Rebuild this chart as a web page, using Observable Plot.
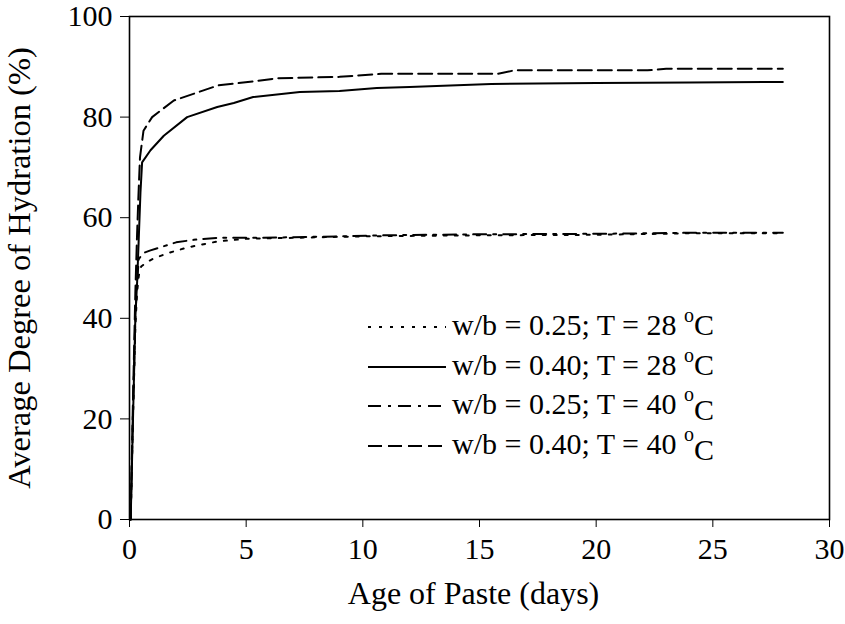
<!DOCTYPE html>
<html>
<head>
<meta charset="utf-8">
<script src="https://cdn.jsdelivr.net/npm/d3@7"></script>
<script src="https://cdn.jsdelivr.net/npm/@observablehq/plot@0.6"></script>
<style>
  html, body { margin: 0; padding: 0; background: #fff; }
  #wrap { position: relative; width: 845px; height: 624px; }
  #wrap svg { position: absolute; left: 0; top: 0; }
</style>
</head>
<body>
<div id="wrap"></div>
<script>
// ---- data ----
const seriesNames = [
  "w/b = 0.25; T = 28 °C",
  "w/b = 0.40; T = 28 °C",
  "w/b = 0.25; T = 40 °C",
  "w/b = 0.40; T = 40 °C"
];
// w/b = 0.25, T = 28 °C (dotted)
const daysA = [0.05, 0.15, 0.25, 0.32, 0.4, 0.5, 0.75, 1, 1.6, 2.5, 3.8, 5, 7, 10, 15, 20, 24, 28];
const hydA  = [0, 20, 38, 45, 48.5, 50.3, 51.2, 51.8, 52.9, 54.1, 55.3, 55.8, 56, 56.3, 56.5, 56.6, 56.9, 56.9];
// w/b = 0.40, T = 28 °C (solid)
const daysB = [0.05, 0.15, 0.25, 0.33, 0.39, 0.47, 0.54, 0.9, 1.47, 2.47, 3.76, 4.47, 5.3, 7.3, 9, 10.6, 12, 15.5, 20, 24, 28];
const hydB  = [0, 20, 40, 47.5, 55, 65, 71, 73.4, 76.3, 80, 82, 82.8, 84, 85, 85.2, 85.8, 86, 86.6, 86.8, 86.9, 87];
// w/b = 0.25, T = 40 °C (dash-dot)
const daysC = [0.05, 0.15, 0.25, 0.32, 0.4, 0.6, 0.9, 2, 2.75, 3.76, 5.6, 8, 11, 15, 20, 22.3, 24, 28];
const hydC  = [0, 22, 40, 47, 51.8, 53, 53.5, 55.1, 55.6, 56, 56, 56.2, 56.5, 56.7, 56.8, 56.9, 57, 57];
// w/b = 0.40, T = 40 °C (dashed)
const daysD = [0.05, 0.15, 0.25, 0.32, 0.38, 0.45, 0.6, 0.97, 1.9, 3.8, 5.3, 6.3, 9, 10.8, 15.8, 16.5, 22.2, 23, 28];
const hydD  = [0, 24, 45, 56, 64, 72, 77.3, 80, 83.3, 86.3, 87.1, 87.7, 88, 88.6, 88.6, 89.3, 89.3, 89.6, 89.6];

const xTicks = [0, 5, 10, 15, 20, 25, 30];
const yTicks = [0, 20, 40, 60, 80, 100];
const xTitle = "Age of Paste (days)";
const yTitle = "Average Degree of Hydration (%)";

// ---- styles ----
const dashes = ["3,8", null, "13,7,3,7", "14,6"];
const font = "'Liberation Serif', 'Times New Roman', serif";

const toRows = (days, vals) => days.map((d, i) => ({day: d, hyd: vals[i]}));
const series = [toRows(daysA, hydA), toRows(daysB, hydB), toRows(daysC, hydC), toRows(daysD, hydD)];

const lineMarks = series.map((rows, i) =>
  Plot.line(rows, {
    x: "day", y: "hyd",
    stroke: "#000", strokeWidth: 2,
    strokeDasharray: dashes[i] || undefined,
    curve: "linear"
  })
);

const chart = Plot.plot({
  width: 845,
  height: 624,
  marginLeft: 129,
  marginRight: 16,
  marginTop: 16,
  marginBottom: 105,
  style: {fontFamily: font, fontSize: "30px", color: "#000", background: "transparent", overflow: "visible"},
  x: {domain: [0, 30]},
  y: {domain: [0, 100]},
  marks: [
    Plot.axisX({ticks: xTicks, tickSize: 8, tickPadding: 10, label: null, fontSize: 30}),
    Plot.axisY({ticks: yTicks, tickSize: 9, tickPadding: 8, label: null, fontSize: 30}),
    ...lineMarks,
    Plot.frame({stroke: "#000", strokeWidth: 1.6}),
    Plot.text([xTitle], {text: d => d, frameAnchor: "bottom", dy: 84, dx: -6, fontSize: 32, fontFamily: font, fill: "#000"}),
    Plot.text([yTitle], {text: d => d, frameAnchor: "left", textAnchor: "middle", dx: -110, rotate: -90, fontSize: 32.5, fontFamily: font, fill: "#000"})
  ]
});
document.getElementById("wrap").appendChild(chart);

// ---- legend overlay (inside the plot frame) ----
const leg = d3.select("#wrap").append("svg")
  .attr("width", 845).attr("height", 624)
  .style("pointer-events", "none");
const legY = [327, 367, 406, 446];
seriesNames.forEach((name, i) => {
  const g = leg.append("g").attr("transform", `translate(0,${legY[i]})`);
  const ln = g.append("line").attr("x1", 368).attr("x2", 446).attr("y1", 0).attr("y2", 0)
    .attr("stroke", "#000").attr("stroke-width", 2);
  if (dashes[i]) ln.attr("stroke-dasharray", dashes[i]);
  const base = name.replace(" °C", " ");
  const t = g.append("text").attr("x", 452).attr("y", 8)
    .attr("font-family", font).attr("font-size", 30).attr("fill", "#000");
  t.append("tspan").text(base);
  t.append("tspan").attr("font-size", 20).attr("dy", -13).text("o");
  t.append("tspan").attr("dy", i < 2 ? 13 : 19).text("C");
});
</script>
</body>
</html>
